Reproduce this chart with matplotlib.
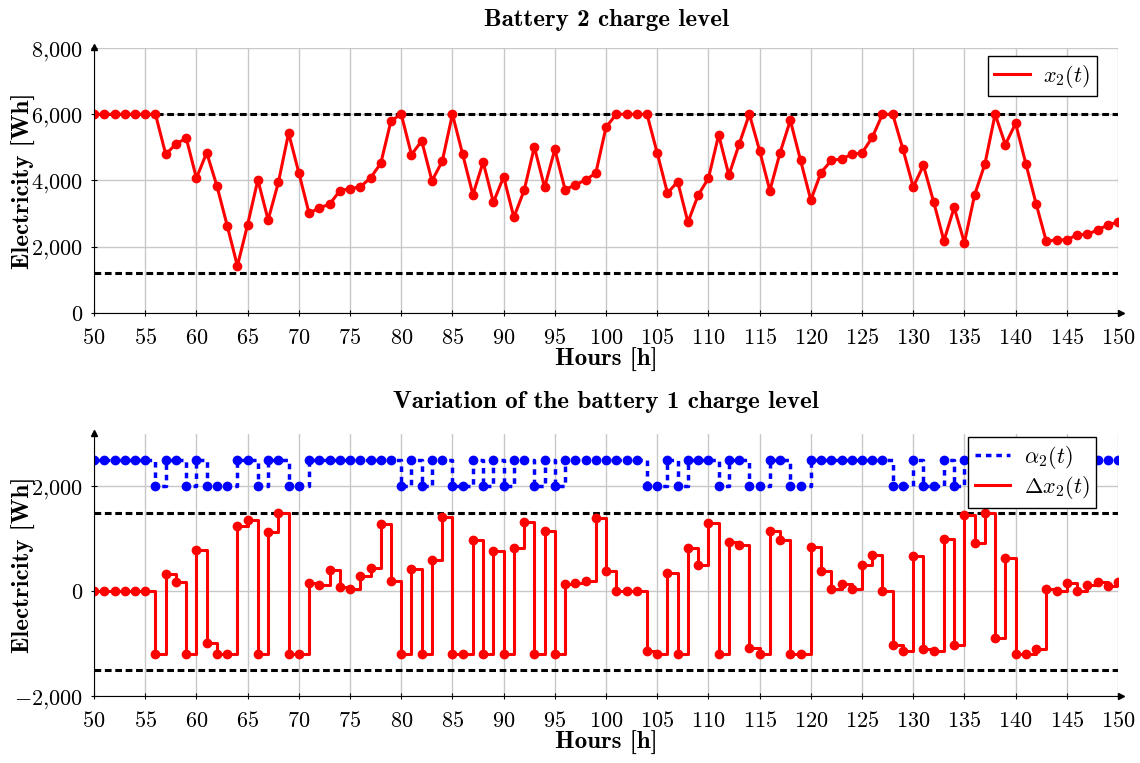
import numpy as np
import matplotlib
matplotlib.use("Agg")
import matplotlib.pyplot as plt
from matplotlib.lines import Line2D
from matplotlib.ticker import FuncFormatter

plt.rcParams['mathtext.fontset'] = 'cm'
plt.rcParams['font.family'] = 'serif'
plt.rcParams['font.serif'] = ['cmr10', 'DejaVu Serif']

# hours on the x axis
hours = np.arange(50, 151)

# battery 2 charge level x2(t) [Wh]
charge = [6000, 6000, 6000, 6000, 6000, 6000, 6000, 4790, 5100, 5280,
          4070, 4840, 3835, 2640, 1420, 2670, 4020, 2810, 3940, 5430,
          4230, 3010, 3175, 3280, 3690, 3755, 3805, 4080, 4515, 5800,
          6000, 4780, 5195, 3990, 4575, 6000, 4790, 3570, 4555, 3340,
          4110, 2890, 3700, 5010, 3795, 4940, 3725, 3865, 4020, 4220,
          5610, 6000, 6000, 6000, 6000, 4830, 3620, 3965, 2740, 3560,
          4065, 5375, 4160, 5095, 6000, 4900, 3695, 4840, 5815, 4605,
          3410, 4240, 4605, 4650, 4790, 4830, 5300, 6000, 6000, 4940,
          3805, 4455, 3350, 2180, 3185, 2120, 3570, 4495, 6000, 5085,
          5725, 4505, 3300, 2160, 2210, 2200, 2365, 2375, 2505, 2655,
          2750]

# variation of the charge level dx2(t) [Wh]
delta = [0, 0, 0, 0, 0, 0, -1190, 320, 175, -1190,
         780, -990, -1190, -1190, 1245, 1355, -1190, 1135, 1500, -1190,
         -1190, 165, 110, 410, 72, 40, 292, 450, 1286, 197,
         -1190, 418, -1190, 596, 1419, -1190, -1190, 976, -1190, 760,
         -1190, 817, 1318, -1190, 1140, -1190, 140, 152, 197, 1405,
         387, 0, 0, 0, -1150, -1195, 342, -1195, 817, 507,
         1311, -1195, 938, 887, -1088, -1195, 1147, 976, -1195, -1195,
         836, 380, 38, 145, 50, 494, 697, 10, -1031, -1132,
         665, -1094, -1139, 1001, -1031, 1457, 919, 1500, -898, 634,
         -1196, -1196, -1108, 51, 0, 165, 13, 127, 178, 95,
         178]

# alpha2(t) indicator (scaled, 2500 = on, 2000 = off)
alpha = [2500, 2500, 2500, 2500, 2500, 2500, 2000, 2500, 2500, 2000,
         2500, 2000, 2000, 2000, 2500, 2500, 2000, 2500, 2500, 2000,
         2000, 2500, 2500, 2500, 2500, 2500, 2500, 2500, 2500, 2500,
         2000, 2500, 2000, 2500, 2500, 2000, 2000, 2500, 2000, 2500,
         2000, 2500, 2500, 2000, 2500, 2000, 2500, 2500, 2500, 2500,
         2500, 2500, 2500, 2500, 2000, 2000, 2500, 2000, 2500, 2500,
         2500, 2000, 2500, 2500, 2000, 2000, 2500, 2500, 2000, 2000,
         2500, 2500, 2500, 2500, 2500, 2500, 2500, 2500, 2000, 2000,
         2500, 2000, 2000, 2500, 2000, 2500, 2500, 2500, 2000, 2500,
         2000, 2000, 2000, 2500, 2500, 2500, 2500, 2500, 2500, 2500,
         2500]

x_bounds = [6000, 1200]
dx_bounds = [1500, -1500]

red = '#ff0000'
blue = '#0000ff'
dash = (0, (2.2, 1.2))
fs = 16
fs_bold = 18


def fmt(v, pos):
    s = '{:,.0f}'.format(v).replace(',', '{,}')
    return '$' + s + '$'


def style_axes(ax, ylim, yticks):
    ax.set_xlim(50, 150)
    ax.set_ylim(*ylim)
    ax.set_xticks(np.arange(50, 151, 5))
    ax.set_yticks(yticks)
    ax.yaxis.set_major_formatter(FuncFormatter(fmt))
    ax.xaxis.set_major_formatter(FuncFormatter(lambda v, p: '$%d$' % v))
    ax.grid(True, color='#c8c8c8', linewidth=1)
    ax.set_axisbelow(True)
    for s in ['top', 'right']:
        ax.spines[s].set_visible(False)
    ax.tick_params(labelsize=fs, direction='inout', length=4, width=0.8)
    ax.tick_params(axis='x', pad=9)
    ax.tick_params(axis='y', pad=6)
    # axis arrows
    ax.plot(0, 1.005, marker='^', color='black', markersize=4,
            transform=ax.transAxes, clip_on=False)
    ax.plot(1.003, 0, marker='>', color='black', markersize=4,
            transform=ax.transAxes, clip_on=False)
    ax.set_xlabel('Hours [h]', fontsize=fs_bold, family='cmb10', labelpad=0)
    ax.set_ylabel('Electricity [Wh]', fontsize=fs_bold, family='cmb10')
    ax.yaxis.set_label_coords(-0.057, 0.5)


def make_legend(ax, handles, labels, anchor):
    leg = ax.legend(handles=handles, labels=labels, loc='upper right',
                    bbox_to_anchor=anchor, borderaxespad=0, fontsize=fs,
                    fancybox=False, edgecolor='black', framealpha=1,
                    handlelength=1.6, handletextpad=0.6, borderpad=0.3,
                    labelspacing=0.15)
    leg.get_frame().set_linewidth(1.0)


fig = plt.figure(figsize=(11.4, 7.63), dpi=100)
ax1 = fig.add_axes([0.0825, 0.5898, 0.8982, 0.3473])
ax2 = fig.add_axes([0.0825, 0.0878, 0.8982, 0.3434])

# top: charge level
for b in x_bounds:
    ax1.axhline(b, color='black', linestyle=dash, linewidth=2.2)
ax1.plot(hours, charge, color=red, linewidth=2.2, marker='o', markersize=6)
style_axes(ax1, (0, 8000), np.arange(0, 8001, 2000))
ax1.set_title('Battery 2 charge level', fontsize=fs_bold, family='cmb10',
              pad=16)
make_legend(ax1, [Line2D([], [], color=red, linewidth=2.2)],
            [r'$x_2(t)$'], (0.9795, 0.97))

# bottom: variation
for b in dx_bounds:
    ax2.axhline(b, color='black', linestyle=dash, linewidth=2.2)
ax2.step(hours, alpha, where='post', color=blue, linewidth=2.5,
         linestyle=(0, (1.6, 1.4)))
ax2.plot(hours, alpha, linestyle='none', marker='o', color=blue, markersize=6)
ax2.step(hours, delta, where='post', color=red, linewidth=2.2)
ax2.plot(hours, delta, linestyle='none', marker='o', color=red, markersize=6)
style_axes(ax2, (-2000, 3000), [-2000, 0, 2000])
ax2.set_title('Variation of the battery 1 charge level', fontsize=fs_bold,
              family='cmb10', pad=19)
make_legend(ax2, [Line2D([], [], color=blue, linewidth=2.5,
                         linestyle=(0, (1.6, 1.4))),
                  Line2D([], [], color=red, linewidth=2.2)],
            [r'$\alpha_2(t)$', r'$\Delta x_2(t)$'], (0.9785, 0.9885))

fig.savefig('out.png', dpi=100)
